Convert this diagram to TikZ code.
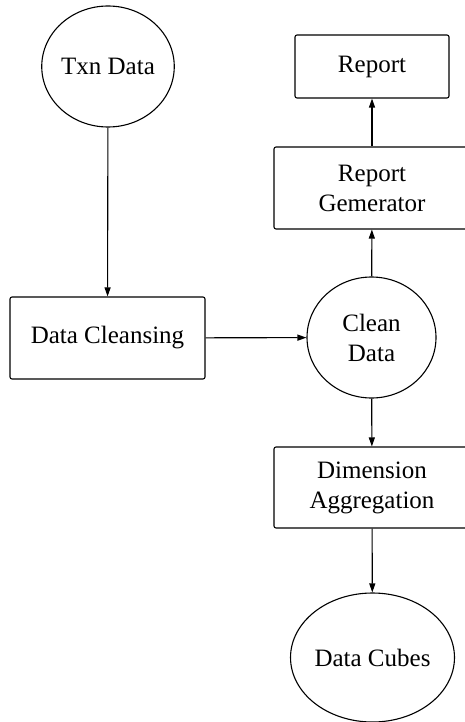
\documentclass[tikz,border=0pt]{standalone}
\usepackage{fontspec}
\setmainfont{Liberation Serif}
\usetikzlibrary{shapes.geometric, arrows.meta}

\tikzset{
    store/.style={draw, ellipse, line width=1.1pt, inner sep=0pt, align=center},
    procbox/.style={draw, rectangle, rounded corners=2pt, line width=1.1pt, inner sep=0pt, align=center},
    flow/.style={line width=1.1pt, -{Triangle[length=9pt,width=6pt]}}
}

\begin{document}
\begin{tikzpicture}[x=1pt, y=-1pt, font=\fontsize{25}{30}\selectfont]
            % Page frame
            \useasboundingbox (0,0) rectangle (464,722);
            % Data stores
            \node[store, minimum width=130pt, minimum height=121pt] (txn) at (108,66.5) {Txn Data};
            \node[store, minimum width=129pt, minimum height=121pt] (clean) at (371.5,337.5) {Clean\\Data};
            \node[store, minimum width=137pt, minimum height=129pt] (cubes) at (372.5,657.5) {Data Cubes};
            % Processes
            \node[procbox, minimum width=195pt, minimum height=82pt] (cleansing) at (107.5,338) {Data Cleansing};
            \node[procbox, minimum width=154pt, minimum height=63pt] (report) at (372,66.5) {Report};
            \node[procbox, minimum width=196pt, minimum height=82pt] (generator) at (372,188) {Report\\Gemerator};
            \node[procbox, minimum width=196pt, minimum height=81pt] (aggregation) at (372,487.5) {Dimension\\Aggregation};
            % Flows
            \draw[flow] (txn) -- (cleansing);
            \draw[flow] (cleansing) -- (clean);
            \draw[flow] (clean) -- (generator);
            \draw[flow] (generator) -- (report);
            \draw[flow] (clean) -- (aggregation);
            \draw[flow] (aggregation) -- (cubes);
        \end{tikzpicture}
\end{document}
